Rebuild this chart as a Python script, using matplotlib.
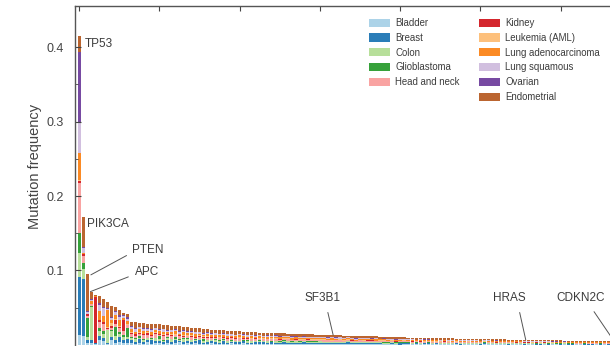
import matplotlib.pyplot as plt
from matplotlib.patches import Patch
import numpy as np

plt.rcParams['font.family'] = ['Liberation Sans', 'DejaVu Sans']

cancers = ['Bladder', 'Breast', 'Colon', 'Glioblastoma', 'Head and neck', 'Kidney',
           'Leukemia (AML)', 'Lung adenocarcinoma', 'Lung squamous', 'Ovarian', 'Endometrial']
colors = ['#acd3e8', '#2a7db8', '#b7df9a', '#36a13a', '#f9a3a2', '#d4262d',
          '#fdc07c', '#fb8a24', '#d1bfdf', '#774aa2', '#bb6530']

# total mutation frequency per gene (x 1e-4), sorted as in the figure
totals = [4150, 1720, 950, 715, 670, 650, 620, 575, 520, 510, 470, 425, 420,
          310, 300, 292, 290, 285, 282, 278, 275, 270, 262, 258, 254, 250, 245, 240, 232, 225, 220,
          212, 208, 205, 200, 198, 195, 192, 188, 185, 182, 178, 175, 172, 168, 165, 162, 160, 158,
          156, 154, 152, 150, 148, 146, 145, 143, 142, 140, 138, 136, 134, 132, 130, 128, 127, 125,
          124, 122, 121, 119, 118, 116, 114, 112, 110, 108, 106, 104, 102, 100, 99, 97, 96, 95, 94,
          92, 91, 90, 89, 88, 87, 86, 85, 84, 83, 82, 81, 80, 79, 78, 77, 76, 75, 74, 73, 72, 71,
          70, 69, 67, 66, 65, 64, 63, 62, 61, 60, 60, 59, 58, 57, 56, 56, 55, 54, 54, 53, 52, 52,
          51, 51, 50, 50]

# share of each cancer type in every gene's bar
bladder = [130, 120, 20, 20, 10, 60, 50, 10, 60, 30, 40, 30, 20,
           8, 5, 10, 6, 12, 4, 9, 7, 3, 11, 6, 8, 14, 5, 9, 7, 10, 4, 8, 6,
           12, 5, 7, 9, 3, 10, 6, 8, 11, 5, 7, 9, 4, 12, 6, 8, 5, 10, 7, 9,
           6, 11, 4, 8, 9, 5, 12, 7, 6, 10, 8, 5, 9, 7, 11, 6, 4, 10, 8, 7,
           9, 6, 12, 5, 8, 10, 7, 4, 9, 11, 6, 8, 5, 10, 7, 9, 12, 6, 8, 5,
           10, 7, 4, 9, 11, 6, 8, 5, 12, 7, 9, 6, 10, 8, 5, 11, 7, 9, 6, 8,
           10, 5, 7, 12, 6, 9, 8, 4, 11, 7, 6, 9, 10, 5, 8, 7, 12, 6, 9, 8, 7]
breast = [780, 770, 50, 40, 10, 60, 40, 10, 40, 40, 70, 30, 60,
          14, 10, 18, 8, 12, 22, 9, 15, 11, 16, 10, 20, 7, 13, 17, 9, 12, 25, 8, 14,
          11, 16, 9, 19, 13, 8, 15, 10, 18, 12, 9, 14, 22, 11, 8, 16, 13, 10, 20, 12,
          15, 9, 12, 18, 10, 14, 8, 17, 11, 13, 10, 16, 12, 9, 21, 11, 14, 8, 15, 12,
          13, 10, 17, 12, 9, 15, 11, 20, 10, 14, 12, 16, 9, 13, 18, 10, 12, 15, 8, 14,
          11, 17, 13, 9, 12, 16, 10, 14, 19, 11, 13, 9, 15, 12, 18, 10, 14, 11, 16, 12,
          9, 14, 12, 17, 10, 13, 15, 11, 12, 16, 14, 10, 12, 15, 9, 13, 11, 17, 12, 10, 13]
colon = [320, 130, 40, 450, 0, 70, 60, 180, 80, 50, 40, 50, 30,
         10, 14, 6, 12, 9, 8, 15, 11, 7, 10, 13, 6, 10, 16, 8, 11, 9, 7, 14, 10,
         8, 12, 15, 7, 10, 13, 9, 11, 6, 14, 11, 8, 10, 13, 15, 7, 12, 9, 10, 11,
         9, 13, 10, 8, 14, 11, 7, 12, 10, 9, 10, 10, 8, 13, 9, 12, 10, 14, 7, 11,
         10, 12, 8, 11, 14, 9, 13, 7, 10, 12, 11, 9, 13, 8, 10, 12, 7, 11, 14, 9,
         10, 8, 12, 11, 9, 13, 10, 7, 11, 12, 9, 12, 8, 10, 13, 9, 11, 10, 7, 12,
         11, 9, 12, 8, 10, 11, 9, 13, 10, 8, 12, 10, 9, 11, 13, 8, 10, 12, 9, 11, 10]
glioblastoma = [270, 80, 250, 10, 0, 30, 40, 5, 20, 120, 20, 20, 110,
                5, 3, 8, 4, 2, 6, 3, 12, 4, 5, 3, 7, 4, 2, 6, 3, 5, 4, 8, 3,
                4, 6, 3, 5, 2, 7, 4, 3, 5, 6, 3, 5, 4, 2, 6, 3, 8, 4, 5, 3,
                4, 2, 6, 5, 3, 4, 7, 3, 5, 4, 3, 5, 4, 6, 2, 5, 3, 4, 6, 3,
                5, 4, 3, 6, 4, 2, 5, 3, 4, 6, 3, 5, 4, 2, 6, 4, 3, 5, 4, 3,
                4, 6, 3, 5, 2, 4, 5, 3, 6, 4, 3, 4, 6, 3, 5, 4, 2, 6, 4, 5,
                4, 3, 5, 4, 6, 3, 4, 5, 3, 4, 5, 4, 3, 6, 4, 5, 3, 4, 5, 3, 4]
head_neck = [670, 100, 30, 30, 0, 80, 90, 10, 30, 40, 60, 50, 40,
             15, 12, 10, 18, 13, 11, 16, 9, 20, 12, 14, 11, 17, 10, 13, 19, 12, 15, 11, 16,
             13, 10, 18, 12, 15, 11, 14, 20, 9, 13, 16, 12, 10, 15, 13, 18, 11, 14, 12, 17,
             11, 15, 13, 10, 16, 12, 14, 11, 18, 13, 12, 14, 17, 11, 13, 15, 10, 16, 12, 14,
             15, 11, 13, 17, 12, 14, 10, 16, 13, 11, 14, 12, 16, 11, 13, 15, 12, 10, 17, 13,
             12, 15, 11, 14, 16, 12, 13, 17, 10, 14, 15, 12, 13, 16, 11, 14, 12, 15, 13, 11,
             13, 16, 12, 11, 15, 14, 12, 13, 17, 12, 11, 14, 16, 12, 13, 15, 12, 11, 14, 13, 12]
kidney = [30, 20, 20, 5, 620, 30, 20, 10, 20, 60, 10, 150, 10,
          3, 6, 2, 4, 8, 3, 5, 2, 6, 4, 5, 2, 4, 7, 3, 5, 2, 6, 3, 4,
          6, 3, 2, 5, 4, 8, 3, 2, 5, 4, 2, 6, 3, 4, 2, 5, 3, 7, 4, 2,
          5, 3, 4, 2, 6, 3, 5, 4, 2, 6, 4, 3, 5, 2, 4, 6, 3, 5, 2, 4,
          3, 5, 2, 4, 6, 3, 5, 2, 4, 3, 5, 2, 4, 6, 3, 4, 2, 5, 3, 6,
          2, 4, 5, 3, 6, 2, 4, 3, 5, 2, 4, 6, 2, 5, 3, 4, 6, 2, 5, 3,
          2, 5, 3, 4, 2, 6, 3, 5, 4, 2, 5, 3, 4, 2, 6, 3, 4, 5, 2, 4, 3]
leukemia = [20, 0, 0, 0, 0, 10, 10, 20, 40, 10, 10, 5, 10,
            4, 2, 6, 3, 5, 2, 8, 3, 4, 2, 6, 3, 2, 5, 4, 7, 3, 2, 9, 4,
            3, 5, 8, 2, 6, 4, 3, 7, 2, 5, 6, 3, 4, 8, 2, 5, 7, 3, 4, 6,
            2, 7, 5, 3, 8, 4, 2, 6, 5, 3, 9, 4, 6, 3, 5, 8, 2, 4, 7, 3,
            5, 3, 8, 4, 2, 6, 5, 3, 9, 4, 6, 4, 3, 8, 5, 2, 7, 4, 3, 6,
            4, 7, 5, 3, 8, 4, 6, 2, 5, 7, 3, 6, 4, 8, 2, 5, 7, 3, 6, 4,
            7, 3, 5, 4, 8, 2, 6, 4, 3, 7, 4, 6, 3, 8, 5, 2, 7, 4, 6, 3, 5]
lung_adeno = [360, 20, 10, 30, 10, 120, 80, 220, 40, 50, 80, 30, 40,
              14, 10, 16, 12, 9, 18, 11, 13, 15, 10, 12, 17, 9, 14, 11, 13, 20, 10, 12, 15,
              11, 14, 10, 16, 13, 9, 15, 12, 18, 11, 13, 10, 15, 11, 17, 12, 9, 14, 13, 10,
              16, 11, 13, 15, 9, 12, 14, 10, 17, 12, 18, 12, 10, 15, 13, 9, 16, 11, 14, 12,
              10, 15, 12, 13, 17, 11, 9, 14, 12, 16, 13, 10, 15, 12, 9, 16, 14, 11, 13, 10,
              15, 11, 13, 16, 10, 12, 14, 9, 13, 15, 11, 14, 12, 10, 16, 13, 9, 15, 12, 14,
              12, 10, 15, 13, 11, 14, 16, 10, 12, 13, 14, 11, 13, 10, 15, 12, 14, 11, 13, 16, 12]
lung_squamous = [410, 60, 20, 20, 0, 80, 100, 10, 30, 40, 50, 20, 30,
                 9, 12, 7, 10, 8, 11, 6, 9, 13, 8, 10, 7, 12, 8, 9, 6, 11, 10, 7, 9,
                 8, 11, 9, 7, 12, 10, 8, 6, 9, 11, 10, 8, 12, 9, 7, 11, 10, 8, 6, 9,
                 12, 8, 9, 11, 7, 10, 8, 12, 9, 7, 8, 10, 12, 9, 7, 11, 10, 8, 9, 12,
                 9, 11, 8, 10, 7, 12, 9, 10, 8, 11, 10, 8, 12, 9, 11, 7, 10, 12, 8, 9,
                 11, 9, 8, 12, 10, 9, 7, 11, 10, 8, 9, 12, 10, 8, 11, 9, 12, 7, 10, 9,
                 8, 11, 9, 10, 12, 8, 9, 11, 7, 10, 10, 8, 12, 9, 7, 11, 10, 8, 12, 9, 10]
ovarian = [950, 10, 10, 10, 0, 20, 20, 15, 20, 20, 20, 10, 20,
           3, 5, 2, 4, 6, 2, 3, 5, 2, 4, 2, 4, 6, 3, 2, 5, 3, 4, 2, 6,
           4, 2, 3, 5, 2, 4, 6, 3, 2, 4, 3, 5, 2, 4, 3, 2, 5, 4, 6, 2,
           4, 3, 2, 5, 3, 6, 2, 4, 3, 5, 2, 4, 3, 5, 2, 3, 6, 2, 4, 3,
           4, 2, 5, 3, 4, 2, 6, 3, 2, 4, 3, 5, 2, 4, 3, 6, 2, 4, 3, 2,
           5, 3, 4, 2, 3, 5, 2, 6, 3, 4, 2, 4, 3, 5, 2, 3, 4, 6, 2, 4,
           3, 5, 2, 4, 3, 2, 5, 3, 6, 4, 2, 4, 3, 5, 2, 4, 3, 6, 2, 3, 4]
endometrial = [210, 410, 500, 100, 20, 90, 110, 85, 140, 50, 70, 30, 50,
               22, 28, 18, 25, 20, 30, 19, 24, 21, 27, 23, 19, 26, 21, 28, 20, 24, 22, 30, 18,
               25, 21, 27, 19, 24, 22, 28, 20, 23, 26, 21, 25, 19, 27, 22, 24, 20, 28, 23, 21,
               26, 22, 24, 20, 27, 21, 25, 23, 19, 28, 22, 25, 21, 27, 20, 24, 28, 22, 26, 21,
               24, 20, 27, 22, 25, 21, 28, 23, 20, 26, 22, 27, 21, 24, 20, 26, 23, 28, 21, 25,
               23, 21, 26, 22, 28, 20, 24, 27, 22, 21, 25, 22, 28, 21, 24, 26, 20, 23, 27, 22,
               24, 21, 26, 22, 20, 28, 23, 25, 21, 27, 22, 26, 21, 24, 28, 20, 25, 23, 22, 26, 21]

labeled_genes = {'TP53': 0, 'PIK3CA': 1, 'PTEN': 2, 'APC': 3,
                 'SF3B1': 63, 'HRAS': 111, 'CDKN2C': 133}

shares = np.array([bladder, breast, colon, glioblastoma, head_neck, kidney, leukemia,
                   lung_adeno, lung_squamous, ovarian, endometrial], dtype=float)
total = np.array(totals) / 10000.0
segments = shares / shares.sum(axis=0) * total
x = np.arange(len(totals))

fig = plt.figure(figsize=(6.1, 3.46), dpi=100)
ax = fig.add_axes([75 / 610, 1.2 / 346, 535 / 610, 338.8 / 346])

bottom = np.zeros(len(totals))
for seg, col, name in zip(segments, colors, cancers):
    ax.bar(x, seg, bottom=bottom, width=0.85, color=col, linewidth=0, label=name)
    bottom += seg

ax.set_xlim(-1.05, 132.3)
ax.set_ylim(0, 0.4554)
ax.set_yticks([0.1, 0.2, 0.3, 0.4])
ax.set_yticks([0.05, 0.15, 0.25, 0.35], minor=True)
ax.set_xticks(np.arange(0, 140, 20))
ax.tick_params(axis='y', which='both', direction='in', colors='#444444', labelsize=9, pad=8)
ax.tick_params(axis='y', which='major', length=4)
ax.tick_params(axis='y', which='minor', length=2.5)
ax.tick_params(axis='x', which='both', direction='in', top=True, bottom=False,
               labelbottom=False, length=3.5, color='#444444')
for side in ['bottom', 'right']:
    ax.spines[side].set_visible(False)
for side in ['left', 'top']:
    ax.spines[side].set_color('#555555')
    ax.spines[side].set_linewidth(1.0)

ax.set_ylabel('Mutation frequency', fontsize=10.5, color='#444444')
ax.yaxis.set_label_coords(-0.062, 0.527)

txt = dict(fontsize=8.5, color='#3c3c3c')
line = dict(arrowstyle='-', color='#555555', lw=0.7)
ax.text(labeled_genes['TP53'] + 1.4, 0.404, 'TP53', ha='left', va='center', **txt)
ax.text(labeled_genes['PIK3CA'] + 1.0, 0.163, 'PIK3CA', ha='left', va='center', **txt)
i = labeled_genes['PTEN']
ax.annotate('PTEN', xy=(i + 0.9, total[i] - 0.001), xytext=(13.1, 0.127), ha='left', va='center',
            arrowprops=dict(relpos=(0, 0.3), shrinkA=2, shrinkB=0, **line), **txt)
i = labeled_genes['APC']
ax.annotate('APC', xy=(i - 0.2, total[i]), xytext=(13.9, 0.098), ha='left', va='center',
            arrowprops=dict(relpos=(0, 0.3), shrinkA=3, shrinkB=0, **line), **txt)
for g, xt, rp in [('SF3B1', 60.6, 0.6), ('HRAS', 107.3, 0.75), ('CDKN2C', 124.9, 0.68)]:
    i = labeled_genes[g]
    ax.annotate(g, xy=(i + 0.3, total[i]), xytext=(xt, 0.0625), ha='center', va='center',
                annotation_clip=False,
                arrowprops=dict(relpos=(rp, 0), shrinkA=4, shrinkB=0, **line), **txt)

handles = [Patch(facecolor=c, label=n) for c, n in zip(colors[:5], cancers[:5])]
handles.append(Patch(facecolor='none', edgecolor='none', label=''))
handles += [Patch(facecolor=c, label=n) for c, n in zip(colors[5:], cancers[5:])]
leg = ax.legend(handles=handles, ncol=2, frameon=False, fontsize=6.9, loc='upper left',
                bbox_to_anchor=(369 / 610, 1 - 18 / 346), bbox_transform=fig.transFigure,
                borderpad=0, borderaxespad=0, handlelength=2.2, handleheight=0.95,
                handletextpad=0.55, labelspacing=0.5, columnspacing=2.0)
for t in leg.get_texts():
    t.set_color('#3c3c3c')

fig.savefig('out.png', dpi=100)
